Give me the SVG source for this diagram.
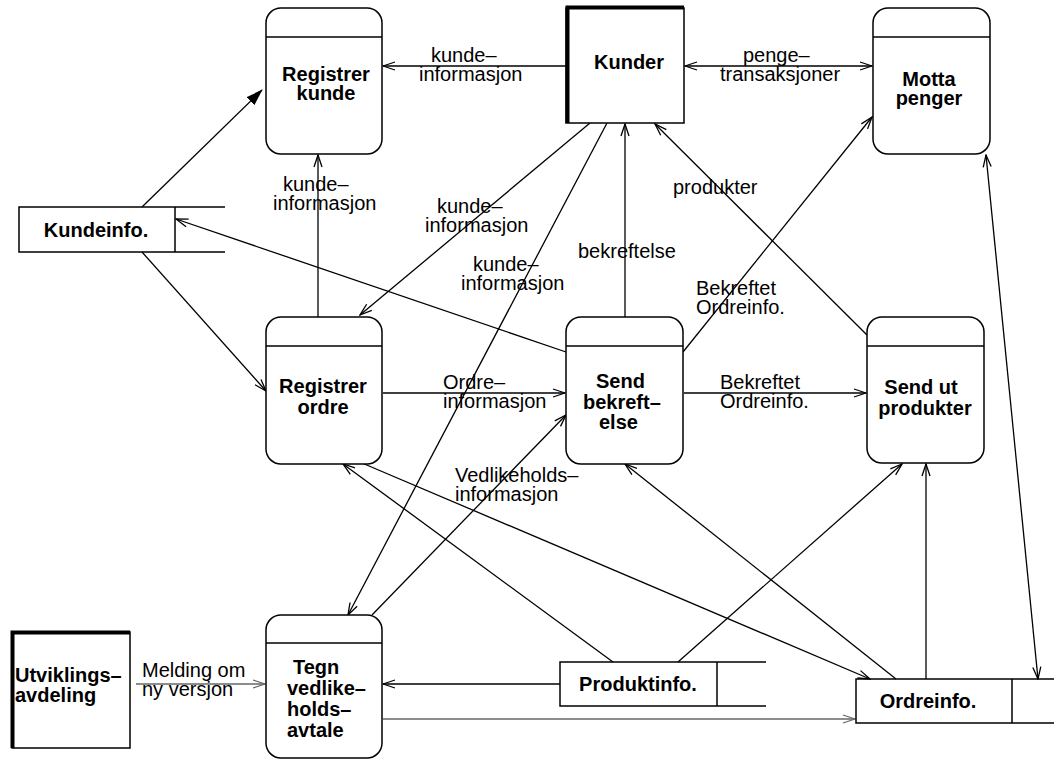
<svg xmlns="http://www.w3.org/2000/svg" width="1054" height="759" viewBox="0 0 1054 759">
<style>
.box{fill:#fff;stroke:#000;stroke-width:1.5}
.st{fill:none;stroke:#000;stroke-width:1.5}
.hd{stroke:#000;stroke-width:1.5}
.thick{fill:none;stroke:#000;stroke-width:4}
.t{font-family:"Liberation Sans",Arial,sans-serif;font-weight:bold;font-size:20px;fill:#000}
.l{font-family:"Liberation Sans",Arial,sans-serif;font-size:20px;fill:#000}
.c{fill:none;stroke:#000;stroke-width:1.3}
.g{fill:none;stroke:#666;stroke-width:1.3}
.e{marker-end:url(#a)}
.s{marker-start:url(#a)}
</style>
<defs>
<marker id="a" viewBox="0 0 14 10" refX="13" refY="5" markerWidth="14" markerHeight="10" markerUnits="userSpaceOnUse" orient="auto-start-reverse">
<path d="M1,1 L13,5 L1,9" fill="none" stroke="#000" stroke-width="1.3"/>
</marker>
<marker id="ag" viewBox="0 0 14 10" refX="13" refY="5" markerWidth="14" markerHeight="10" markerUnits="userSpaceOnUse" orient="auto">
<path d="M1,1 L13,5 L1,9" fill="none" stroke="#666" stroke-width="1.3"/>
</marker>
<marker id="f" viewBox="0 0 17 11" refX="16" refY="5.5" markerWidth="17" markerHeight="11" markerUnits="userSpaceOnUse" orient="auto">
<path d="M0,0 L17,5.5 L0,11 z" fill="#000"/>
</marker>
</defs>

<g id="connectors">
<line class="c e" x1="566" y1="66" x2="383" y2="66"/>
<line class="c e s" x1="685" y1="66" x2="872" y2="66"/>
<line class="c" x1="142" y1="207" x2="262" y2="90" marker-end="url(#f)"/>
<line class="c e" x1="142" y1="252" x2="266" y2="391"/>
<line class="c e" x1="566" y1="352" x2="176" y2="219"/>
<line class="c e" x1="318" y1="317" x2="318" y2="155"/>
<line class="c e" x1="590" y1="123" x2="360" y2="315"/>
<line class="c e" x1="607" y1="123" x2="348" y2="615"/>
<line class="c e" x1="625" y1="317" x2="625" y2="124"/>
<line class="c e" x1="867" y1="335" x2="655" y2="124"/>
<line class="c e" x1="683" y1="352" x2="872" y2="117"/>
<line class="c e" x1="383" y1="393" x2="565" y2="393"/>
<line class="c e" x1="684" y1="393" x2="866" y2="393"/>
<line class="c e" x1="372" y1="615" x2="566" y2="415"/>
<line class="c e" x1="613" y1="662" x2="343" y2="464"/>
<line class="c e" x1="362" y1="463" x2="870" y2="679"/>
<line class="c e" x1="896" y1="679" x2="625" y2="464"/>
<line class="c e" x1="678" y1="662" x2="902" y2="464"/>
<line class="c e" x1="926" y1="679" x2="926" y2="464"/>
<line class="c e s" x1="986" y1="155" x2="1038" y2="679"/>
<line class="c e" x1="560" y1="684" x2="383" y2="684"/>
<line class="g" x1="383" y1="719" x2="855" y2="719" marker-end="url(#ag)"/>
<line class="g" x1="136" y1="684" x2="265" y2="684" marker-end="url(#ag)"/>

<text class="l" x="431" y="62">kunde–</text>
<text class="l" x="419" y="81">informasjon</text>
<text class="l" x="743" y="62">penge–</text>
<text class="l" x="720" y="81">transaksjoner</text>
<text class="l" x="283" y="191">kunde–</text>
<text class="l" x="273" y="210">informasjon</text>
<text class="l" x="437" y="213">kunde–</text>
<text class="l" x="425" y="232">informasjon</text>
<text class="l" x="473" y="271">kunde–</text>
<text class="l" x="461" y="290">informasjon</text>
<text class="l" x="578" y="258">bekreftelse</text>
<text class="l" x="673" y="194">produkter</text>
<text class="l" x="696" y="295">Bekreftet</text>
<text class="l" x="696" y="314">Ordreinfo.</text>
<text class="l" x="720" y="389">Bekreftet</text>
<text class="l" x="720" y="408">Ordreinfo.</text>
<text class="l" x="443" y="389">Ordre–</text>
<text class="l" x="443" y="408">informasjon</text>
<text class="l" x="455" y="482">Vedlikeholds–</text>
<text class="l" x="455" y="501">informasjon</text>
<text class="l" x="142" y="677">Melding om</text>
<text class="l" x="142" y="696">ny versjon</text>
</g>

<g id="registrer-kunde">
<rect class="box" x="266" y="8" width="116" height="146" rx="15"/>
<line class="hd" x1="266" y1="37" x2="382" y2="37"/>
<text class="t" x="326" y="81" text-anchor="middle">Registrer</text>
<text class="t" x="326" y="100" text-anchor="middle">kunde</text>
</g>

<g id="kunder">
<rect class="box" x="566" y="8" width="118" height="115"/>
<path class="thick" d="M567.5,123 V7.5 H684"/>
<text class="t" x="629" y="69" text-anchor="middle">Kunder</text>
</g>

<g id="motta-penger">
<rect class="box" x="873" y="8" width="117" height="146" rx="15"/>
<line class="hd" x1="873" y1="37" x2="990" y2="37"/>
<text class="t" x="929" y="86" text-anchor="middle">Motta</text>
<text class="t" x="929" y="105" text-anchor="middle">penger</text>
</g>

<g id="kundeinfo">
<path class="st" d="M225,207 H19 V252 H225"/>
<line class="hd" x1="175" y1="207" x2="175" y2="252"/>
<text class="t" x="96" y="237" text-anchor="middle">Kundeinfo.</text>
</g>

<g id="registrer-ordre">
<rect class="box" x="266" y="317" width="116" height="147" rx="15"/>
<line class="hd" x1="266" y1="346" x2="382" y2="346"/>
<text class="t" x="323" y="393" text-anchor="middle">Registrer</text>
<text class="t" x="323" y="414" text-anchor="middle">ordre</text>
</g>

<g id="send-bekreftelse">
<rect class="box" x="566" y="317" width="117" height="147" rx="15"/>
<line class="hd" x1="566" y1="346" x2="683" y2="346"/>
<text class="t" x="596" y="388">Send</text>
<text class="t" x="583" y="409">bekreft–</text>
<text class="t" x="599" y="429">else</text>
</g>

<g id="send-ut-produkter">
<rect class="box" x="867" y="317" width="117" height="146" rx="15"/>
<line class="hd" x1="867" y1="346" x2="984" y2="346"/>
<text class="t" x="921" y="394" text-anchor="middle">Send ut</text>
<text class="t" x="925" y="415" text-anchor="middle">produkter</text>
</g>

<g id="tegn-vedlikeholdsavtale">
<rect class="box" x="266" y="615" width="116" height="143" rx="15"/>
<line class="hd" x1="266" y1="643" x2="382" y2="643"/>
<text class="t" x="293" y="674">Tegn</text>
<text class="t" x="287" y="695">vedlike–</text>
<text class="t" x="287" y="716">holds–</text>
<text class="t" x="287" y="737">avtale</text>
</g>

<g id="utviklingsavdeling">
<rect class="box" x="12" y="632" width="118" height="116"/>
<path class="thick" d="M12.5,748 V632.5 H130"/>
<text class="t" x="15" y="682">Utviklings–</text>
<text class="t" x="15" y="702">avdeling</text>
</g>

<g id="produktinfo">
<path class="st" d="M766,662 H560 V706 H766"/>
<line class="hd" x1="717" y1="662" x2="717" y2="706"/>
<text class="t" x="638" y="691" text-anchor="middle">Produktinfo.</text>
</g>

<g id="ordreinfo">
<path class="st" d="M1056,679 H856 V723 H1056"/>
<line class="hd" x1="1012" y1="679" x2="1012" y2="723"/>
<text class="t" x="928" y="708" text-anchor="middle">Ordreinfo.</text>
</g>
</svg>
